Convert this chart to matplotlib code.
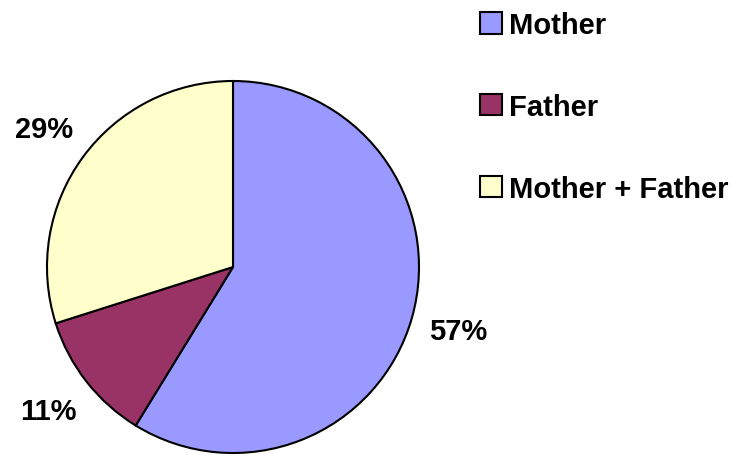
import matplotlib.pyplot as plt

plt.rcParams['font.family'] = ['Liberation Sans', 'DejaVu Sans']

labels = ['Mother', 'Father', 'Mother + Father']
values = [57, 11, 29]
colors = ['#9999FF', '#993366', '#FFFFCC']

fig = plt.figure(figsize=(7.37, 4.56), dpi=100)
# pie centre ~ (233, 268) px, radius ~186 px
ax = fig.add_axes([(233 - 186) / 737, (456 - 268 - 186) / 456, 372 / 737, 372 / 456])

wedges, texts, autotexts = ax.pie(
    values, colors=colors, startangle=90, counterclock=False,
    autopct=lambda p: '%d%%' % round(p * sum(values) / 100),
    pctdistance=1.26,
    wedgeprops=dict(edgecolor='black', linewidth=1.5),
    textprops=dict(fontsize=21, fontweight='bold', color='black'),
)
ax.set_aspect('equal')
ax.set_xlim(-1, 1)
ax.set_ylim(-1, 1)
for t in autotexts:
    t.set_clip_on(False)
for w in wedges:
    w.set_clip_on(False)

leg = fig.legend(wedges, labels, loc='upper left',
                 bbox_to_anchor=(480 / 737, 1 - 12 / 456),
                 frameon=False, borderpad=0, borderaxespad=0,
                 handlelength=0.75, handleheight=0.75, handletextpad=0.25,
                 labelspacing=1.85,
                 prop=dict(size=21, weight='bold'))

fig.savefig('out.png', dpi=100)
